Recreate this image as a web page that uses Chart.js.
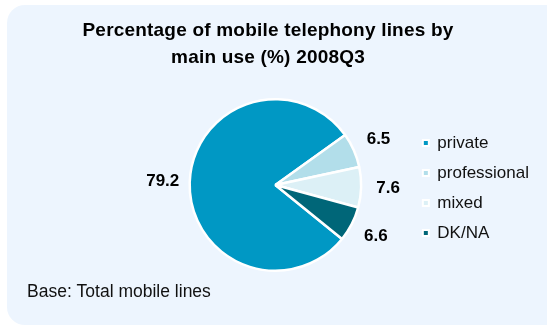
<!DOCTYPE html>
<html>
<head>
<meta charset="utf-8">
<script src="https://cdn.jsdelivr.net/npm/chart.js@4/dist/chart.umd.min.js"></script>
<style>
  html, body { margin: 0; padding: 0; background: #ffffff; }
  #wrap { width: 547px; height: 327px; position: relative; }
</style>
</head>
<body>
<div id="wrap"><canvas id="c"></canvas></div>
<script>
// Mobile telephony lines by main use, 2008Q3 (%)
const categories = ['private', 'professional', 'mixed', 'DK/NA'];
const shares = [79.2, 6.5, 7.6, 6.6];
const titleLines = ['Percentage of mobile telephony lines by', 'main use (%) 2008Q3'];
const baseNote = 'Base: Total mobile lines';

const sliceColors = ['#0098C4', '#B2DEEA', '#DCF0F6', '#006678'];
const FONT = '"Liberation Sans", Arial, Helvetica, sans-serif';

// Rounded light panel behind everything
const panelPlugin = {
  id: 'panel',
  beforeDraw(chart) {
    const ctx = chart.ctx;
    ctx.save();
    ctx.fillStyle = '#ffffff';
    ctx.fillRect(0, 0, chart.width, chart.height);
    ctx.fillStyle = '#EDF5FE';
    ctx.beginPath();
    ctx.roundRect(7, 5, chart.width + 20, 320, 18);
    ctx.fill();
    ctx.restore();
  }
};

// Heading and base note
const textPlugin = {
  id: 'texts',
  afterDraw(chart) {
    const ctx = chart.ctx;
    ctx.save();
    ctx.fillStyle = '#000000';
    ctx.textBaseline = 'alphabetic';
    ctx.textAlign = 'center';
    ctx.font = 'bold 19px ' + FONT;
    ctx.letterSpacing = '0.2px';
    ctx.fillText(titleLines[0], 268, 36);
    ctx.fillText(titleLines[1], 268, 63);
    ctx.letterSpacing = '0px';
    ctx.textAlign = 'left';
    ctx.fillStyle = '#111111';
    ctx.font = '17.5px ' + FONT;
    ctx.fillText(baseNote, 27, 297);
    ctx.restore();
  }
};

// Value labels placed just outside each slice
const valueLabels = {
  id: 'valueLabels',
  afterDatasetsDraw(chart) {
    const ctx = chart.ctx;
    const meta = chart.getDatasetMeta(0);
    ctx.save();
    ctx.font = 'bold 17px ' + FONT;
    ctx.fillStyle = '#000000';
    ctx.textAlign = 'center';
    ctx.textBaseline = 'middle';
    meta.data.forEach((arc, i) => {
      const p = arc.getProps(['x', 'y', 'startAngle', 'endAngle', 'outerRadius'], true);
      const mid = (p.startAngle + p.endAngle) / 2;
      const r = p.outerRadius + 27;
      ctx.fillText(shares[i].toFixed(1), p.x + Math.cos(mid) * r, p.y + Math.sin(mid) * r);
    });
    ctx.restore();
  }
};

new Chart(document.getElementById('c'), {
  type: 'pie',
  data: {
    labels: categories,
    datasets: [{
      data: shares,
      backgroundColor: sliceColors,
      borderColor: '#ffffff',
      borderWidth: 2.5
    }]
  },
  options: {
    responsive: true,
    maintainAspectRatio: false,
    animation: false,
    rotation: 129,
    layout: { padding: { left: 141, right: 8, top: 98, bottom: 55 } },
    plugins: {
      title: { display: false },
      tooltip: { enabled: false },
      legend: {
        position: 'right',
        align: 'center',
        title: { display: true, text: '', padding: 0, font: { size: 6, lineHeight: 1 } },
        labels: {
          boxWidth: 6,
          boxHeight: 6,
          padding: 13,
          color: '#111111',
          font: { family: FONT, size: 17 },
          generateLabels(chart) {
            return categories.map((c, i) => ({
              text: c,
              fillStyle: sliceColors[i],
              strokeStyle: '#ffffff',
              fontColor: '#111111',
              lineWidth: 2,
              index: i,
              hidden: false
            }));
          }
        }
      }
    }
  },
  plugins: [panelPlugin, valueLabels, textPlugin]
});
</script>
</body>
</html>
